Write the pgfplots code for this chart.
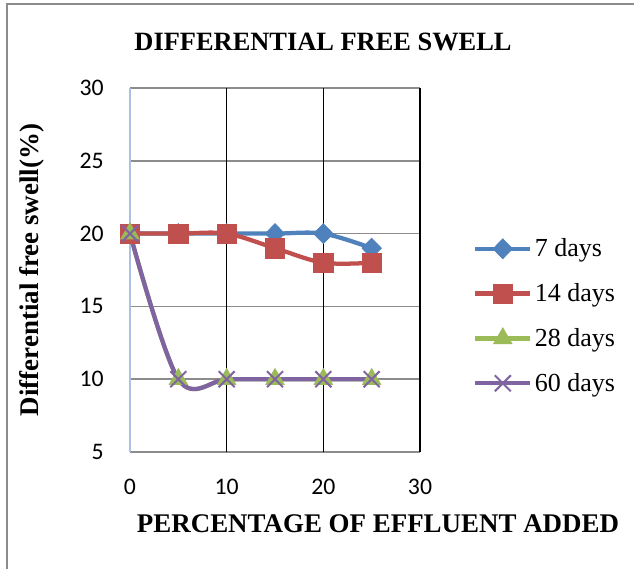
\documentclass[border=0pt]{standalone}
\usepackage{pgfplots}
\pgfplotsset{compat=1.18}
\usepackage{fontspec}
\setmainfont{Liberation Serif}
\newfontfamily\tickfont{Carlito}
\definecolor{sblue}{HTML}{4F81BD}
\definecolor{sred}{HTML}{C0504D}
\definecolor{sgreen}{HTML}{9BBB59}
\definecolor{spurple}{HTML}{8064A2}
\definecolor{gridgray}{HTML}{8C8C8C}
\definecolor{axblue}{HTML}{A9C1E6}
\begin{document}
\begin{tikzpicture}[x=1pt,y=1pt]
\useasboundingbox (0,0) rectangle (475.5,426.75);
\draw[gridgray, line width=1.5pt] (5.25,0) -- (5.25,423.5) -- (475.5,423.5);
\begin{axis}[
  at={(97.5pt,87.75pt)}, anchor=south west,
  scale only axis, width=217.5pt, height=273pt,
  xmin=0, xmax=30, ymin=5, ymax=30,
  xtick={0,10,20,30}, ytick={5,10,15,20,25,30},
  axis x line*=bottom, axis y line*=left,
  x axis line style={gridgray, line width=1.2pt, -},
  y axis line style={axblue, line width=2pt, -},
  major tick length=0pt,
  ymajorgrids, major grid style={gridgray, line width=1.2pt},
  extra x ticks={10,20,30}, extra x tick labels={},
  extra x tick style={grid=major, major grid style={black, line width=1.2pt}},
  /pgf/number format/assume math mode=true,
  ticklabel style={font=\tickfont\fontsize{17.8}{20}\selectfont},
  xticklabel style={anchor=north, inner sep=0pt, yshift=-20pt},
  yticklabel style={anchor=east, inner sep=0pt, xshift=-19.5pt},
  legend style={at={(1.183,0.3736)}, anchor=west, draw=none, fill=none,
    inner sep=0pt, row sep=14.6pt, font=\fontsize{19.5}{22}\selectfont,
    legend cell align=left},
  legend image code/.code={\draw[mark repeat=2,mark phase=2] plot coordinates {(0pt,0pt) (20.5pt,0pt) (41pt,0pt)};},
  every axis plot/.append style={line width=3.2pt, smooth, tension=0.55},
  clip=false,
]
\addplot[color=sblue, mark=diamond*, mark size=7.5pt, mark options={solid, line width=0.5pt, xscale=1.3}] coordinates {(0,20) (5,20) (10,20) (15,20) (20,20) (25,19)};
\addlegendentry{7 days}
\addplot[color=sred, mark=square*, mark size=7.3pt, mark options={solid, line width=0.5pt}] coordinates {(0,20) (5,20) (10,20) (15,19) (20,18) (25,18)};
\addlegendentry{14 days}
\addplot[color=sgreen, mark=triangle*, mark size=8pt, mark options={solid, line width=0.5pt}] coordinates {(0,20) (5,10) (10,10) (15,10) (20,10) (25,10)};
\addlegendentry{28 days}
\addplot[color=spurple, mark=x, mark size=8.5pt, mark options={solid, line width=1.5pt}] coordinates {(0,20) (5,10) (10,10) (15,10) (20,10) (25,10)};
\addlegendentry{60 days}
\end{axis}
\node at (242.25,395.6) {\fontsize{19.8}{22}\selectfont\bfseries DIFFERENTIAL FREE SWELL};
\node at (283.5,33.75) {\fontsize{20.2}{22}\selectfont\bfseries PERCENTAGE OF EFFLUENT ADDED};
\node[rotate=90] at (24,224.25) {\fontsize{20.2}{22}\selectfont\bfseries Differential free swell(\%)};
\end{tikzpicture}
\end{document}
